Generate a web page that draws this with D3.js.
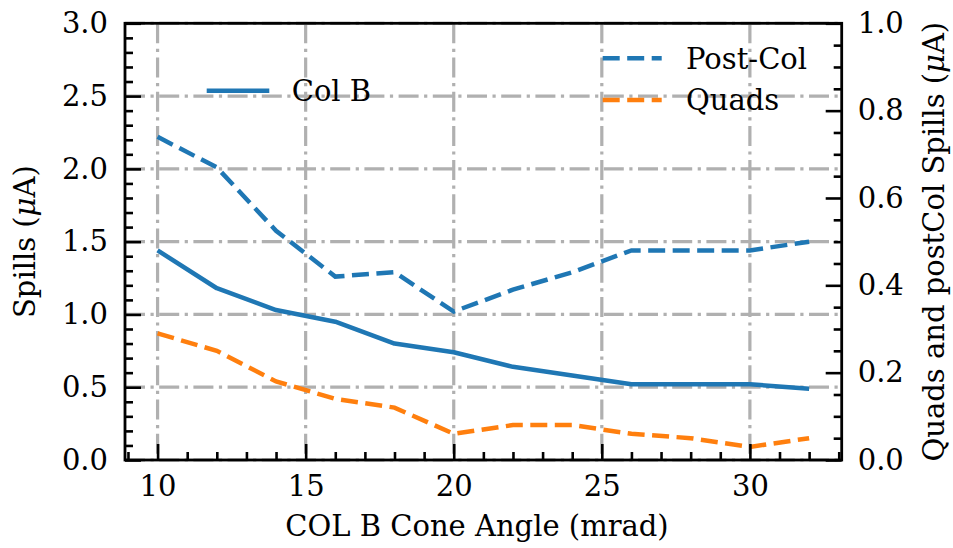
<!DOCTYPE html>
<html>
<head>
<meta charset="utf-8">
<script src="https://cdn.jsdelivr.net/npm/d3@7"></script>
<style>
  html, body { margin: 0; padding: 0; background: #fff; }
  svg { display: block; }
  text { font-family: "DejaVu Serif", serif; fill: #000; }
</style>
</head>
<body>
<svg id="chart" width="953" height="548"></svg>
<script>
// ---- data ----
const coneAngles = [10, 12, 14, 16, 18, 20, 22, 24, 26, 28, 30, 32];
const colB      = [1.44, 1.18, 1.03, 0.95, 0.80, 0.74, 0.64, 0.58, 0.52, 0.52, 0.52, 0.49];
const postCol   = [0.74, 0.67, 0.525, 0.42, 0.43, 0.34, 0.39, 0.43, 0.48, 0.48, 0.48, 0.50];
const quads     = [0.29, 0.25, 0.18, 0.14, 0.12, 0.06, 0.08, 0.08, 0.06, 0.05, 0.03, 0.05];
const xMajorTicks = [10, 15, 20, 25, 30];
const yLeftTicks  = [0, 0.5, 1.0, 1.5, 2.0, 2.5, 3.0];
const yRightTicks = [0, 0.2, 0.4, 0.6, 0.8, 1.0];
const xLabel = "COL B Cone Angle (mrad)";
const yLeftLabel = "Spills (";
const yRightLabel = "Quads and postCol Spills (";
const legendLeft = ["Col B"];
const legendRight = ["Post-Col", "Quads"];

// ---- layout ----
const L = 125, R = 841.7, T = 23.3, B = 460;
const FS = 29;
const svg = d3.select("#chart");

const x = d3.scaleLinear().domain([8.9, 33.1]).range([L, R]);
const yL = d3.scaleLinear().domain([0, 3]).range([B, T]);
const yR = d3.scaleLinear().domain([0, 1]).range([B, T]);

const blue = "#1f77b4", orange = "#ff7f0e", gridC = "#b0b0b0";

// grid
const g = svg.append("g");
g.selectAll(".gx").data(xMajorTicks).enter().append("line")
  .attr("x1", d => x(d)).attr("x2", d => x(d)).attr("y1", T).attr("y2", B)
  .attr("stroke", gridC).attr("stroke-width", 3.2).attr("stroke-dasharray", "20,5.5,3.2,5.5");
g.selectAll(".gy").data(yLeftTicks).enter().append("line")
  .attr("x1", L).attr("x2", R).attr("y1", d => yL(d)).attr("y2", d => yL(d))
  .attr("stroke", gridC).attr("stroke-width", 3.2).attr("stroke-dasharray", "20,5.5,3.2,5.5");

// lines
const lineL = d3.line().x((d, i) => x(coneAngles[i])).y(d => yL(d));
const lineR = d3.line().x((d, i) => x(coneAngles[i])).y(d => yR(d));
svg.append("path").datum(colB).attr("d", lineL).attr("fill", "none")
  .attr("stroke", blue).attr("stroke-width", 4.5).attr("stroke-linejoin", "round");
svg.append("path").datum(postCol).attr("d", lineR).attr("fill", "none")
  .attr("stroke", blue).attr("stroke-width", 4.5).attr("stroke-dasharray", "17,7.5");
svg.append("path").datum(quads).attr("d", lineR).attr("fill", "none")
  .attr("stroke", orange).attr("stroke-width", 4.5).attr("stroke-dasharray", "17,7.5");

// axes
function styleAxis(sel) {
  sel.select(".domain").remove();
  sel.selectAll(".tick line").attr("stroke", "#000").attr("stroke-width", 2.6);
  sel.selectAll(".tick text").attr("font-family", "DejaVu Serif").attr("font-size", FS).attr("fill", "#000");
}
const minorX = d3.range(9, 34, 1).filter(v => !xMajorTicks.includes(v));
const minorYL = d3.range(0, 31, 1).map(v => v / 10).filter(v => !yLeftTicks.some(t => Math.abs(t - v) < 1e-9));
const minorYR = d3.range(0, 21, 1).map(v => v / 20).filter(v => !yRightTicks.some(t => Math.abs(t - v) < 1e-9));

svg.append("g").attr("transform", `translate(0,${B})`)
  .call(d3.axisBottom(x).tickValues(minorX).tickSize(-8).tickSizeOuter(0).tickFormat(""))
  .call(styleAxis);
svg.append("g").attr("transform", `translate(0,${B})`)
  .call(d3.axisBottom(x).tickValues(xMajorTicks).tickSize(-16).tickSizeOuter(0).tickPadding(15).tickFormat(d3.format("d")))
  .call(styleAxis)
  .selectAll(".tick text").attr("dy", "0.71em");

svg.append("g").attr("transform", `translate(${L},0)`)
  .call(d3.axisLeft(yL).tickValues(minorYL).tickSize(-8).tickSizeOuter(0).tickFormat(""))
  .call(styleAxis);
svg.append("g").attr("transform", `translate(${L},0)`)
  .call(d3.axisLeft(yL).tickValues(yLeftTicks).tickSize(-16).tickSizeOuter(0).tickPadding(17).tickFormat(d3.format(".1f")))
  .call(styleAxis);

svg.append("g").attr("transform", `translate(${R},0)`)
  .call(d3.axisRight(yR).tickValues(minorYR).tickSize(-8).tickSizeOuter(0).tickFormat(""))
  .call(styleAxis);
svg.append("g").attr("transform", `translate(${R},0)`)
  .call(d3.axisRight(yR).tickValues(yRightTicks).tickSize(-16).tickSizeOuter(0).tickPadding(16).tickFormat(d3.format(".1f")))
  .call(styleAxis);

// spines
svg.append("rect").attr("x", L).attr("y", T).attr("width", R - L).attr("height", B - T)
  .attr("fill", "none").attr("stroke", "#000").attr("stroke-width", 2.8);

// axis labels
svg.append("text").attr("x", 477).attr("y", 536).attr("text-anchor", "middle")
  .attr("font-size", FS).text(xLabel);

function muLabel(sel, prefix) {
  sel.append("tspan").text(prefix);
  sel.append("tspan").attr("font-style", "italic").text("\u03bc");
  sel.append("tspan").text("A)");
}
svg.append("text").attr("transform", `translate(35,${(T + B) / 2}) rotate(-90)`)
  .attr("text-anchor", "middle").attr("font-size", FS).call(muLabel, yLeftLabel);
svg.append("text").attr("transform", `translate(944,${(T + B) / 2}) rotate(-90)`)
  .attr("text-anchor", "middle").attr("font-size", FS).call(muLabel, yRightLabel);

// legends
const leg1 = svg.append("g");
leg1.append("line").attr("x1", 206.7).attr("x2", 269.3).attr("y1", 90.7).attr("y2", 90.7)
  .attr("stroke", blue).attr("stroke-width", 4.5);
leg1.append("text").attr("x", 291.7).attr("y", 90.7).attr("dy", "0.36em").attr("font-size", FS).text(legendLeft[0]);

const leg2 = svg.append("g");
const legColors = [blue, orange];
const legY = [58.3, 100];
legendRight.forEach((name, i) => {
  leg2.append("line").attr("x1", 602.7).attr("x2", 661.7).attr("y1", legY[i]).attr("y2", legY[i])
    .attr("stroke", legColors[i]).attr("stroke-width", 4.5).attr("stroke-dasharray", "17,7.5");
  leg2.append("text").attr("x", 686).attr("y", legY[i]).attr("dy", "0.36em").attr("font-size", FS).text(name);
});
</script>
</body>
</html>
